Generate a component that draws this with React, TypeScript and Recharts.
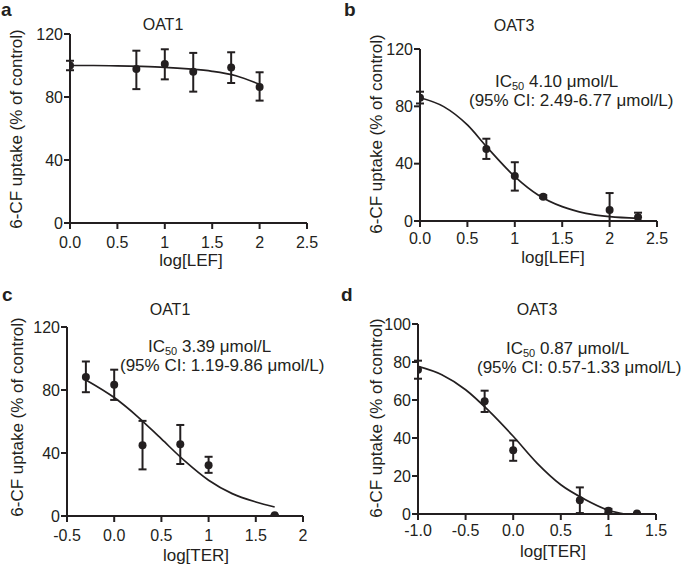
import { ComposedChart, Line, Scatter, ErrorBar, XAxis, YAxis } from 'recharts'

const FONT = '"Liberation Sans", Arial, Helvetica, sans-serif'
const INK = '#231f20'

// panel a: OAT1 / LEF
const aX = [0, 0.7, 1, 1.3, 1.7, 2]
const aY = [100, 97.8, 101, 96, 98.8, 86.3]
const aErr = [[3, 3], [12.8, 11.6], [9.8, 9.3], [12.6, 12], [9.9, 9.6], [8.6, 9.4]]
const aFitX = [0, 0.25, 0.5, 0.75, 1, 1.25, 1.5, 1.75, 2]
const aFitY = [100, 100, 99.8, 99.4, 98.8, 97.8, 96.3, 93.5, 88]

// panel b: OAT3 / LEF
const bX = [0, 0.7, 1, 1.3, 2, 2.3]
const bY = [86, 50.2, 31.4, 17, 7.7, 2.6]
const bErr = [[4, 4.2], [6.9, 7.2], [10.2, 9.6], [1, 1], [7.7, 11.8], [2.6, 3.2]]
const bFitX = [0, 0.25, 0.5, 0.7, 1, 1.25, 1.5, 1.75, 2, 2.3]
const bFitY = [86, 79.8, 67, 52, 31, 18, 10, 5.3, 3, 1.9]

// panel c: OAT1 / TER
const cX = [-0.3, 0, 0.3, 0.7, 1, 1.7]
const cY = [88.2, 83.3, 45, 45.5, 32.3, 0.4]
const cErr = [[9.6, 9.9], [9.6, 9.6], [15.4, 15.4], [12.5, 12.3], [4.9, 5.3], [0, 0]]
const cFitX = [-0.3, 0, 0.25, 0.5, 0.75, 1, 1.25, 1.5, 1.7]
const cFitY = [86.4, 75.2, 63, 48.9, 34.8, 22.7, 14.2, 8.9, 5.7]

// panel d: OAT3 / TER
const dX = [-1, -0.3, 0, 0.7, 1, 1.3]
const dY = [75.9, 59.3, 33.5, 7.2, 1.7, 0.3]
const dErr = [[4.7, 4.8], [5.6, 5.6], [5.5, 5.2], [6.7, 6.8], [1, 1], [0, 0]]
const dFitX = [-1, -0.75, -0.5, -0.25, 0, 0.25, 0.5, 0.75, 1, 1.17]
const dFitY = [77.7, 73.3, 65.4, 54, 40.9, 26.8, 15.4, 7.8, 2, 0]

const lefTicks = [0, 0.5, 1, 1.5, 2, 2.5]
const lefLabels = ['0.0', '0.5', '1', '1.5', '2', '2.5']
const terTicksC = [-0.5, 0, 0.5, 1, 1.5, 2]
const terLabelsC = ['-0.5', '0.0', '0.5', '1', '1.5', '2']
const terTicksD = [-1, -0.5, 0, 0.5, 1, 1.5]
const terLabelsD = ['-1.0', '-0.5', '0.0', '0.5', '1', '1.5']
const yTicks120 = [0, 40, 80, 120]
const yTicks100 = [0, 20, 40, 60, 80, 100]

const pts = (xs: number[], ys: number[], errs: number[][]) =>
  xs.map((x, i) => ({ x, y: ys[i], err: errs[i] }))
const fit = (xs: number[], ys: number[]) => xs.map((x, i) => ({ x, y: ys[i] }))

const Dot = (p: any) => <circle cx={p.cx} cy={p.cy} r={4} fill={INK} />

interface PanelProps {
  left: number
  top: number
  width: number
  height: number
  margin: { top: number; right: number; bottom: number; left: number }
  yWidth: number
  xTicks: number[]
  xLabels: string[]
  yTicks: number[]
  xGap: number
  points: { x: number; y: number; err: number[] }[]
  curve: { x: number; y: number }[]
}

function Panel(props: PanelProps) {
  const { left, top, width, height, margin, yWidth, xTicks, xLabels, yTicks, xGap, points, curve } = props
  const tick = { fontSize: 16, fill: INK, fontFamily: FONT }
  return (
    <div style={{ position: 'absolute', left, top }}>
      <ComposedChart width={width} height={height} margin={margin}>
        <XAxis
          type="number"
          dataKey="x"
          domain={[xTicks[0], xTicks[xTicks.length - 1]]}
          ticks={xTicks}
          interval={0}
          allowDataOverflow
          height={30}
          tickFormatter={(v: number) => xLabels[xTicks.findIndex((t) => Math.abs(t - v) < 1e-9)]}
          tick={tick}
          tickSize={6}
          tickMargin={xGap}
          axisLine={{ stroke: INK, strokeWidth: 2 }}
          tickLine={{ stroke: INK, strokeWidth: 2 }}
        />
        <YAxis
          type="number"
          dataKey="y"
          domain={[yTicks[0], yTicks[yTicks.length - 1]]}
          ticks={yTicks}
          interval={0}
          allowDataOverflow
          width={yWidth}
          tick={tick}
          tickSize={6}
          tickMargin={1}
          axisLine={{ stroke: INK, strokeWidth: 2 }}
          tickLine={{ stroke: INK, strokeWidth: 2 }}
        />
        <Line
          data={curve}
          dataKey="y"
          type="monotone"
          dot={false}
          stroke={INK}
          strokeWidth={1.7}
          isAnimationActive={false}
        />
        <Scatter data={points} dataKey="y" shape={Dot} isAnimationActive={false}>
          <ErrorBar dataKey="err" direction="y" width={4} stroke={INK} strokeWidth={2} />
        </Scatter>
      </ComposedChart>
    </div>
  )
}

function Ic50({ x, y, value, ci, ciX }: { x: number; y: number; value: string; ci: string; ciX: number }) {
  return (
    <g fontSize={17}>
      <text x={x} y={y}>
        IC<tspan fontSize={11} dy={3}>50</tspan><tspan dy={-3}> {value} μmol/L</tspan>
      </text>
      <text x={ciX} y={y + 19}>(95% CI: {ci} μmol/L)</text>
    </g>
  )
}

function YTitle({ x, y }: { x: number; y: number }) {
  return (
    <text x={x} y={y} fontSize={17} textAnchor="middle" dominantBaseline="central" transform={`rotate(-90 ${x} ${y})`}>
      6-CF uptake (% of control)
    </text>
  )
}

export default function App() {
  return (
    <div style={{ position: 'absolute', left: 0, top: 0, width: 685, height: 566, background: '#fff', fontFamily: FONT }}>
      <Panel
        left={0} top={0} width={340} height={285}
        margin={{ top: 34, right: 33, bottom: 32, left: 0 }}
        yWidth={70} xTicks={lefTicks} xLabels={lefLabels} yTicks={yTicks120} xGap={8}
        points={pts(aX, aY, aErr)} curve={fit(aFitX, aFitY)}
      />
      <Panel
        left={340} top={0} width={345} height={285}
        margin={{ top: 49, right: 28, bottom: 34, left: 0 }}
        yWidth={80} xTicks={lefTicks} xLabels={lefLabels} yTicks={yTicks120} xGap={6}
        points={pts(bX, bY, bErr)} curve={fit(bFitX, bFitY)}
      />
      <Panel
        left={0} top={285} width={340} height={281}
        margin={{ top: 42, right: 37, bottom: 20, left: 0 }}
        yWidth={67} xTicks={terTicksC} xLabels={terLabelsC} yTicks={yTicks120} xGap={8}
        points={pts(cX, cY, cErr)} curve={fit(cFitX, cFitY)}
      />
      <Panel
        left={340} top={285} width={345} height={281}
        margin={{ top: 39, right: 29, bottom: 22, left: 0 }}
        yWidth={78} xTicks={terTicksD} xLabels={terLabelsD} yTicks={yTicks100} xGap={5}
        points={pts(dX, dY, dErr)} curve={fit(dFitX, dFitY)}
      />
      <svg width={685} height={566} style={{ position: 'absolute', left: 0, top: 0, pointerEvents: 'none' }} fill={INK} fontFamily={FONT}>
        <g fontWeight="bold" fontSize={19}>
          <text x={1} y={16}>a</text>
          <text x={344} y={16}>b</text>
          <text x={2} y={301}>c</text>
          <text x={341} y={301}>d</text>
        </g>
        <g fontSize={16} textAnchor="middle">
          <text x={163} y={30}>OAT1</text>
          <text x={514} y={31}>OAT3</text>
          <text x={170} y={315}>OAT1</text>
          <text x={537} y={315}>OAT3</text>
        </g>
        <g fontSize={17} textAnchor="middle">
          <text x={191} y={266}>log[LEF]</text>
          <text x={553} y={263}>log[LEF]</text>
          <text x={196} y={561}>log[TER]</text>
          <text x={553} y={557}>log[TER]</text>
        </g>
        <YTitle x={16} y={129} />
        <YTitle x={376} y={134} />
        <YTitle x={17} y={417} />
        <YTitle x={376} y={418} />
        <Ic50 x={495} y={87} value="4.10" ci="2.49-6.77" ciX={469} />
        <Ic50 x={148} y={352} value="3.39" ci="1.19-9.86" ciX={120} />
        <Ic50 x={506} y={354} value="0.87" ci="0.57-1.33" ciX={477} />
      </svg>
    </div>
  )
}
